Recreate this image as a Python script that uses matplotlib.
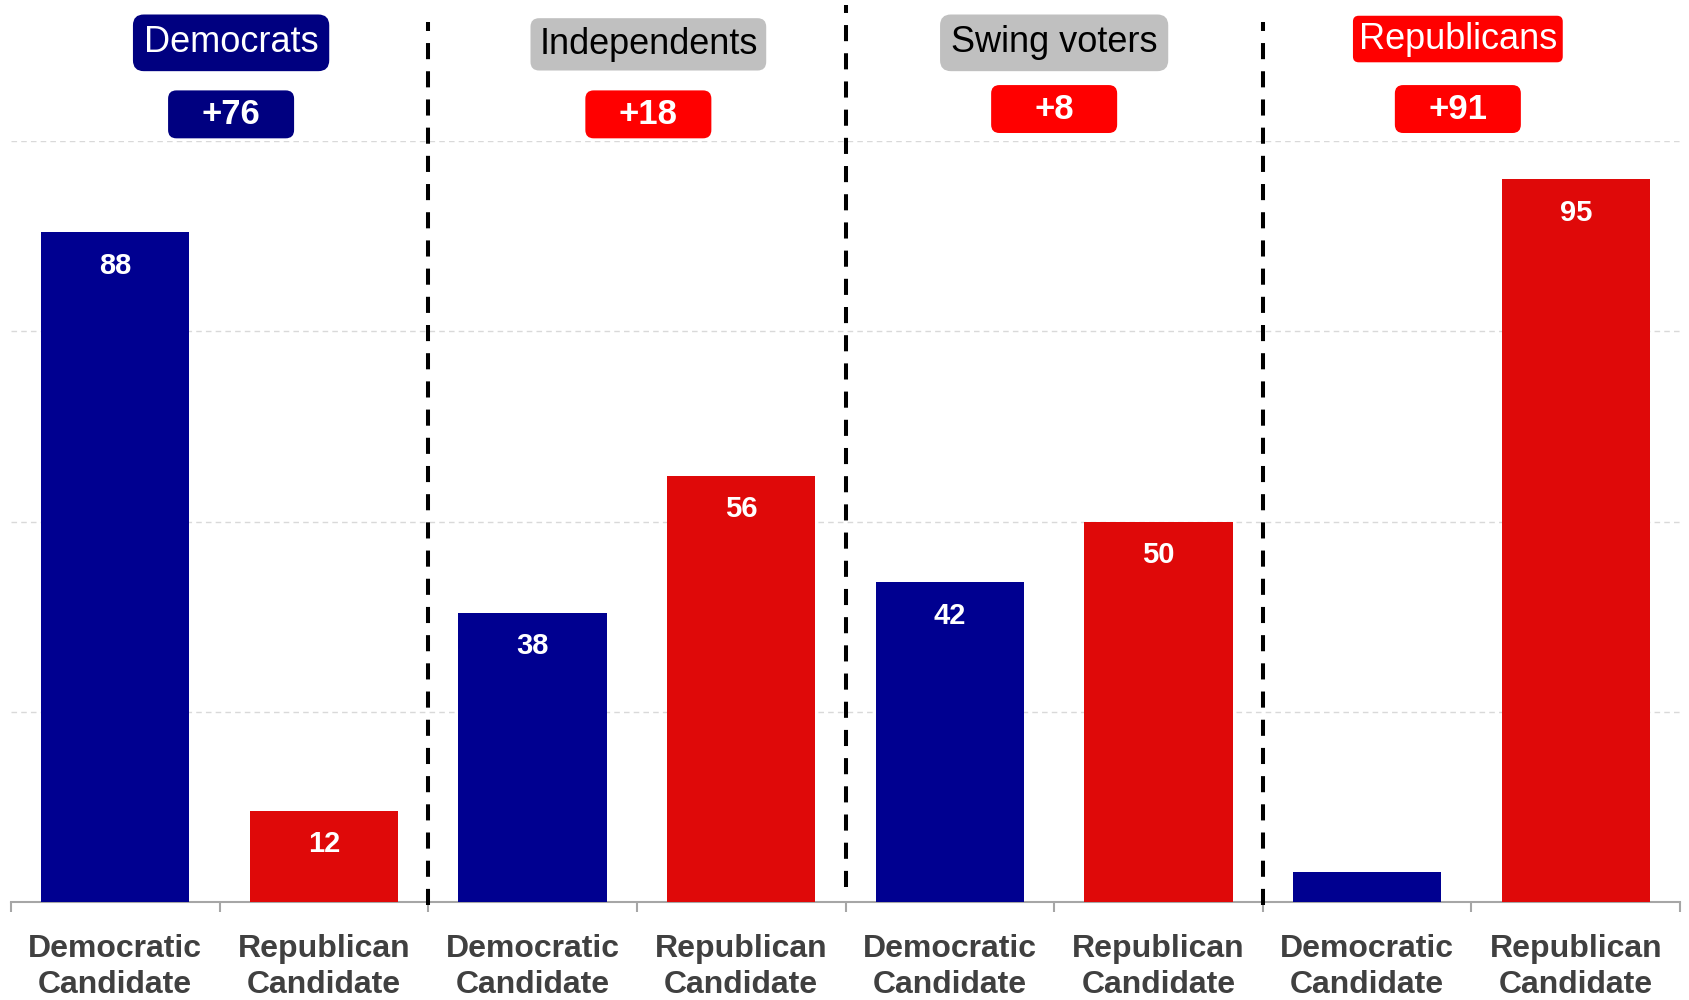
import numpy as np
import matplotlib.pyplot as plt
from matplotlib.patches import FancyBboxPatch

plt.rcParams['font.family'] = ['Liberation Sans', 'DejaVu Sans']

# Data
groups = ['Democrats', 'Independents', 'Swing voters', 'Republicans']
candidates = ['Democratic\nCandidate', 'Republican\nCandidate']
dem_candidate = [88, 38, 42, 4]
rep_candidate = [12, 56, 50, 95]

# Styling for the group header boxes
group_box_colors = ['#000080', '#C0C0C0', '#C0C0C0', '#FF0000']
group_text_colors = ['white', 'black', 'black', 'white']
group_pad = [0.3, 0.24, 0.3, 0.16]
label_shift = [0.055, 0.055, 0.0, -0.065]
header_y = [112.9, 112.7, 112.9, 113.4]
net_y = [103.5, 103.5, 104.2, 104.2]
divider_top = [115.6, 117.9, 115.6]
divider_bottom = [-0.4, 2.0, -0.4]

blue = '#000090'
red = '#DF0909'

fig = plt.figure(figsize=(16.89, 10), dpi=100)
ax = fig.add_axes([0.0065, 0.098, 0.9882, 0.761])

# interleave the two candidates per group
values = []
colors = []
for d, r in zip(dem_candidate, rep_candidate):
    values += [d, r]
    colors += [blue, red]
x = np.arange(len(values))

bars = ax.bar(x, values, width=0.71, color=colors, zorder=3)

# value labels inside the bars
for xi, v in zip(x, values):
    if v >= 8:
        ax.text(xi, v - 4.4, str(v), ha='center', va='center', color='white',
                fontsize=21, fontweight='bold', zorder=4)

ax.set_xlim(-0.5, len(values) - 0.5)
ax.set_ylim(0, 100)

# axes styling
for s in ['top', 'left', 'right']:
    ax.spines[s].set_visible(False)
ax.spines['bottom'].set_color('#A6A6A6')
ax.spines['bottom'].set_linewidth(1.5)
ax.set_yticks([25, 50, 75, 100])
ax.set_yticklabels([])
ax.tick_params(axis='y', length=0)
ax.yaxis.grid(True, linestyle=(0, (4, 3)), color='#D9D9D9', linewidth=1, zorder=0)

ax.set_xticks(x)
ax.set_xticklabels(candidates * len(groups), fontsize=23, fontweight='bold',
                   color='#404040', linespacing=1.25)
ax.tick_params(axis='x', which='major', length=0, pad=23)
ax.set_xticks(np.arange(-0.5, len(values)), minor=True)
ax.tick_params(axis='x', which='minor', length=7, width=1.5, color='#A6A6A6')

# dashed group dividers
for i, xd in enumerate([1.5, 3.5, 5.5]):
    ax.plot([xd, xd], [divider_bottom[i], divider_top[i]], color='black',
            linewidth=2.9, linestyle='--', dashes=(4, 3), clip_on=False, zorder=5)

# group headers and net margin boxes
for i, g in enumerate(groups):
    cx = 2 * i + 0.5 + label_shift[i]
    ax.text(cx, header_y[i], g, ha='center', va='center', fontsize=26,
            color=group_text_colors[i], clip_on=False,
            bbox=dict(boxstyle='round,pad=%.2f' % group_pad[i],
                      fc=group_box_colors[i], ec='none'))

    diff = rep_candidate[i] - dem_candidate[i]
    net_color = '#000080' if diff < 0 else '#FF0000'
    w, h = 0.604, 6.3
    cy = net_y[i]
    box = FancyBboxPatch((cx - w / 2, cy - h / 2), w, h,
                         boxstyle='round,pad=0,rounding_size=0.04',
                         mutation_aspect=27.4, fc=net_color, ec='none',
                         clip_on=False, zorder=5)
    ax.add_patch(box)
    ax.text(cx, cy, '+%d' % abs(diff), ha='center', va='center', fontsize=25,
            fontweight='bold', color='white', clip_on=False, zorder=6)

plt.savefig('out.png', dpi=100)
